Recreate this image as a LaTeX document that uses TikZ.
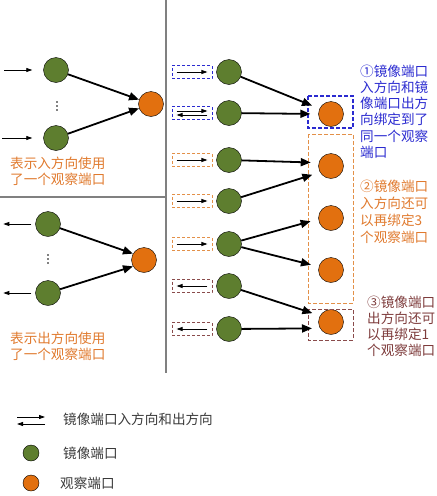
\documentclass[tikz,border=0pt]{standalone}
\usepackage{fontspec}
\setmainfont{Noto Sans CJK SC}
\usepackage{tikz}
\usetikzlibrary{arrows.meta}
\definecolor{portgreen}{HTML}{5E7E2F}
\definecolor{portorange}{HTML}{E2700F}
\definecolor{txtorange}{HTML}{E07A2E}
\definecolor{txtblue}{HTML}{2B2BD0}
\definecolor{txtbrown}{HTML}{7E3C3C}
\definecolor{boxorange}{HTML}{E39048}
\definecolor{boxbrown}{HTML}{8A4B4B}
\definecolor{legendgray}{HTML}{3A3A3A}

\begin{document}
\begin{tikzpicture}[x=1pt,y=-1pt,
    mport/.style={circle,draw,fill=portgreen,minimum size=25pt,inner sep=0pt},
    oport/.style={circle,draw,fill=portorange,minimum size=25pt,inner sep=0pt},
    bind/.style={line width=1.8pt,-{Triangle[length=10pt,width=8pt]}},
    flow/.style={line width=0.8pt,-{Triangle[length=6pt,width=4pt]}},
    tag/.style={minimum width=40pt,minimum height=13pt,inner sep=0pt,line width=0.9pt,dash pattern=on 3pt off 2pt},
    note/.style={anchor=north west,inner sep=0pt,align=left,font=\fontsize{13.6}{16.5}\selectfont}]
  \useasboundingbox (0,0) rectangle (437,496);

  % dividers
  \draw [line width=1.5pt,gray] (166,0) -- (166,373);
  \draw [line width=1.5pt,gray] (0,197) -- (166,197);

  % inbound, upper left
  \node [mport] (a1) at (56,70) {};
  \node [mport] (a2) at (56,138) {};
  \node [oport] (ao) at (151,104) {};
  \foreach \dy in {-4,0,4}
    \fill (57,106+\dy) circle (0.8);
  \draw [flow] ([xshift=-39pt]a1.west) -- ([xshift=-11pt]a1.west);
  \draw [flow] ([xshift=-41pt]a2.west) -- ([xshift=-11pt]a2.west);
  \draw [bind] (a1) -- (ao.160);
  \draw [bind] (a2) -- (ao.200);
  \node [note,txtorange] (t1) at (10,156.5) {表示入方向使用\\了一个观察端口};

  % outbound, lower left
  \node [mport] (b1) at (48,224) {};
  \node [mport] (b2) at (48,293) {};
  \node [oport] (bo) at (144,260) {};
  \foreach \dy in {-4,0,4}
    \fill (48,259+\dy) circle (0.8);
  \draw [flow] ([xshift=-4pt]b1.west) -- ([xshift=-32pt]b1.west);
  \draw [flow] ([xshift=-4pt]b2.west) -- ([xshift=-32pt]b2.west);
  \draw [bind] (b1) -- (bo.150);
  \draw [bind] (b2) -- (bo.210);
  \node [note,txtorange] (t2) at (10,331.5) {表示出方向使用\\了一个观察端口};

  % mirror ports with their direction tags
  \foreach \i/\y/\c in {1/72/txtblue,2/113/txtblue,3/160/boxorange,4/201/boxorange,5/244/boxorange,6/286/boxbrown,7/329/boxbrown}
  {
    \node [mport] (g\i) at (229,\y) {};
    \node [tag,draw=\c] (p\i) at (192,\y) {};
  }
  \foreach \i in {1,3,4,5}
    \draw [flow] ([xshift=5pt]p\i.west) -- ([xshift=-5pt]p\i.east);
  \foreach \i in {6,7}
    \draw [flow] ([xshift=-5pt]p\i.east) -- ([xshift=5pt]p\i.west);
  \draw [flow] ([xshift=5pt,yshift=2pt]p2.west) -- ([xshift=-5pt,yshift=2pt]p2.east);
  \draw [flow] ([xshift=-5pt,yshift=-2pt]p2.east) -- ([xshift=5pt,yshift=-2pt]p2.west);

  % observer ports
  \foreach \j/\y in {1/114,2/166,3/218,4/270,5/322}
    \node [oport] (o\j) at (331,\y) {};
  \draw [txtblue,line width=1.1pt,dash pattern=on 4pt off 2pt] (308,96) rectangle (353,128);
  \draw [boxorange,line width=0.9pt,dash pattern=on 4pt off 2pt] (308,134) rectangle (353,303);
  \draw [boxbrown,line width=0.9pt,dash pattern=on 4pt off 2pt] (308,309) rectangle (353,340);

  \foreach \s/\t in {g1/o1.155,g2/o1.180,g3/o2.165,g4/o2.210,g5/o3.185,g5/o4.165,g6/o5.150,g7/o5.210}
    \draw [bind,shorten >=8pt] (\s) -- (\t);

  % notes
  \node [note,txtblue,font=\fontsize{13.6}{16.2}\selectfont] (t3) at (360,64.5) {①镜像端口\\入方向和镜\\像端口出方\\向绑定到了\\同一个观察\\端口};
  \node [note,txtorange,font=\fontsize{13.6}{17}\selectfont] (t4) at (360,179.5) {②镜像端口\\入方向还可\\以再绑定3\\个观察端口};
  \node [note,txtbrown,font=\fontsize{13.6}{16}\selectfont] (t5) at (367,295.5) {③镜像端口\\出方向还可\\以再绑定1\\个观察端口};

  % legend
  \coordinate (l1) at (17,417);
  \coordinate (l2) at (45,417);
  \coordinate (l3) at (17,424);
  \coordinate (l4) at (45,424);
  \draw [flow] (l1) -- (l2);
  \draw [flow] (l4) -- (l3);
  \node [mport,minimum size=16pt] (lm) at (31,453) {};
  \node [oport,minimum size=16pt] (lo) at (31,483) {};
  \node [anchor=west,inner sep=0pt,legendgray,font=\fontsize{13.6}{16}\selectfont] (k1) at (63,419) {镜像端口入方向和出方向};
  \node [anchor=west,inner sep=0pt,legendgray,font=\fontsize{13.6}{16}\selectfont] (k2) at (63,453) {镜像端口};
  \node [anchor=west,inner sep=0pt,legendgray,font=\fontsize{13.6}{16}\selectfont] (k3) at (60,483) {观察端口};
\end{tikzpicture}
\end{document}
